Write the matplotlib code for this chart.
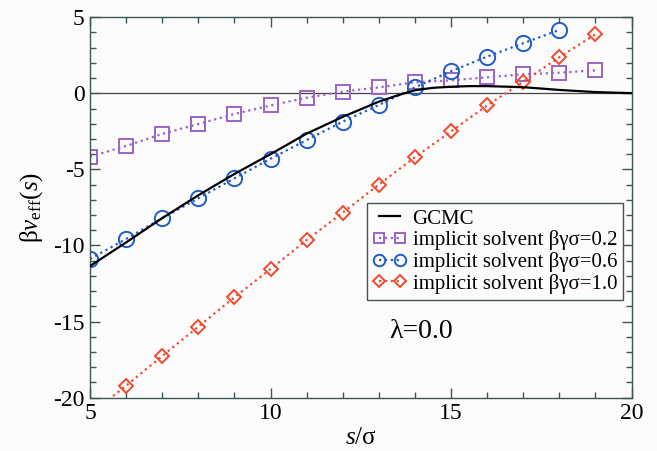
import matplotlib
matplotlib.use("Agg")
import matplotlib.pyplot as plt
from matplotlib.ticker import MultipleLocator

plt.rcParams["font.family"] = ["Liberation Serif", "DejaVu Serif"]
plt.rcParams["mathtext.fontset"] = "custom"
plt.rcParams["mathtext.rm"] = "Liberation Serif"
plt.rcParams["mathtext.it"] = "Liberation Serif:italic"
plt.rcParams["axes.unicode_minus"] = False

# GCMC effective potential (solid curve)
gcmc_s = [5, 6, 7, 8, 9, 10, 11, 12, 12.5, 13, 13.5, 14, 14.5, 15, 15.5, 16, 17, 18, 19, 20]
gcmc_v = [-11.35, -9.8, -8.2, -6.7, -5.3, -4.0, -2.65, -1.55, -1.05, -0.55, -0.15, 0.2,
          0.36, 0.43, 0.47, 0.47, 0.4, 0.22, 0.08, 0.01]

# implicit solvent, beta*gamma*sigma = 0.2
s_02 = [5, 6, 7, 8, 9, 10, 11, 12, 13, 14, 15, 16, 17, 18, 19]
v_02 = [-4.17, -3.46, -2.67, -2.02, -1.36, -0.80, -0.29, 0.11, 0.39, 0.72, 0.85,
        1.05, 1.25, 1.35, 1.51]

# implicit solvent, beta*gamma*sigma = 0.6
s_06 = [5, 6, 7, 8, 9, 10, 11, 12, 13, 14, 15, 16, 17, 18]
v_06 = [-10.89, -9.57, -8.21, -6.90, -5.59, -4.30, -3.07, -1.86, -0.77, 0.39, 1.45,
        2.41, 3.29, 4.16]

# implicit solvent, beta*gamma*sigma = 1.0
s_10 = [5, 6, 7, 8, 9, 10, 11, 12, 13, 14, 15, 16, 17, 18, 19]
v_10 = [-21.1, -19.21, -17.26, -15.33, -13.40, -11.55, -9.64, -7.84, -6.00, -4.2,
        -2.5, -0.8, 0.76, 2.37, 3.88]

SPINE = "#3f5555"
PURPLE = "#9a63c6"
BLUE = "#1f5bc6"
RED = "#f0492c"

fig = plt.figure(figsize=(6.57, 4.51), dpi=100, facecolor="#fcfcfd")
ax = fig.add_axes([0.137, 0.1182, 0.8243, 0.8437])
ax.set_facecolor("#fcfcfd")

ax.axhline(0, color="#444444", lw=0.9, zorder=1)

ax.plot(gcmc_s, gcmc_v, color="black", lw=1.6, label="GCMC", zorder=3)
ax.plot(s_02, v_02, ls=":", lw=1.6, color=PURPLE, marker="s", ms=10, mfc="none",
        mec=PURPLE, mew=1.4, label="implicit solvent βγσ=0.2", zorder=2)
ax.plot(s_06, v_06, ls=":", lw=1.6, color=BLUE, marker="o", ms=11, mfc="none",
        mec=BLUE, mew=1.4, label="implicit solvent βγσ=0.6", zorder=2)
ax.plot(s_10, v_10, ls=":", lw=1.6, color=RED, marker="D", ms=7.6, mfc="none",
        mec=RED, mew=1.4, label="implicit solvent βγσ=1.0", zorder=2)

ax.set_xlim(5, 20)
ax.set_ylim(-20, 5)
ax.xaxis.set_major_locator(MultipleLocator(5))
ax.xaxis.set_minor_locator(MultipleLocator(1))
ax.yaxis.set_major_locator(MultipleLocator(5))
ax.yaxis.set_minor_locator(MultipleLocator(1))
ax.tick_params(which="both", direction="in", top=True, right=True, colors=SPINE,
               labelcolor="black", labelsize=17, width=1.0)
ax.tick_params(which="major", length=7, pad=4)
ax.tick_params(which="minor", length=4)
for sp in ax.spines.values():
    sp.set_color(SPINE)
    sp.set_linewidth(1.0)

ax.set_xlabel("$s$/σ", fontsize=18, labelpad=2)
ax.set_ylabel("β$v_{\\rm eff}$($s$)", fontsize=18, labelpad=6)

ax.text(13.3, -15.66, "λ=0.0", fontsize=20, ha="left", va="center")

leg = ax.legend(loc="upper left", bbox_to_anchor=(0.511, 0.512), borderaxespad=0,
                fontsize=15, numpoints=2, markerscale=0.75, handlelength=1.6,
                handletextpad=0.3, labelspacing=0.08, borderpad=0.3,
                fancybox=False, framealpha=1)
leg.get_frame().set_edgecolor(SPINE)
leg.get_frame().set_linewidth(1.0)
leg.get_frame().set_facecolor("#fcfcfd")

fig.savefig("out.png", dpi=100, facecolor=fig.get_facecolor())
